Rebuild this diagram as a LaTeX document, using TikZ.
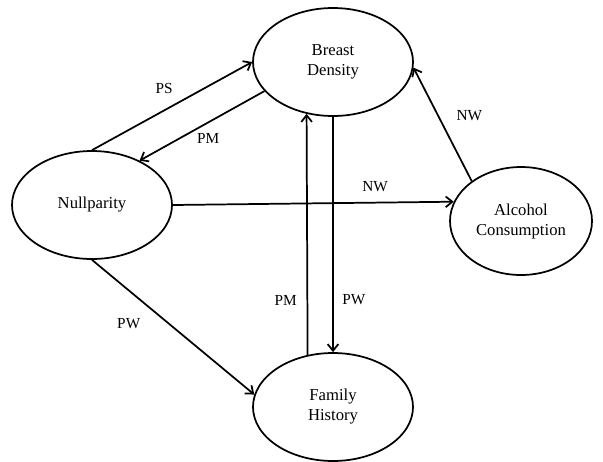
\documentclass[tikz,border=0pt]{standalone}
\usepackage{fontspec}
\setmainfont{Liberation Serif}
\usepackage{tikz}
\usetikzlibrary{shapes.geometric, arrows.meta}

\tikzset{
    factor/.style={draw, ellipse, line width=1.3pt, inner sep=0pt, align=center,
        minimum width=120pt, minimum height=81pt, font=\fontsize{12.5}{15}\selectfont},
    link/.style={-{Straight Barb[length=5pt, width=8pt, line width=1.3pt]}, line width=1.3pt},
    lbl/.style={font=\fontsize{11.5}{13}\selectfont}
}

\begin{document}
\begin{tikzpicture}[x=0.75pt, y=-0.75pt]
            \useasboundingbox (0, 0) rectangle (603, 461);

            \node[factor] (density) at (333, 62) {Breast\\Density};
            \node[factor] (nullparity) at (92, 205) {Nullparity};
            \node[factor, minimum width=106.5pt] (alcohol) at (521, 221) {Alcohol\\Consumption};
            \node[factor] (history) at (333, 407) {Family\\History};

            \draw[link] (nullparity.north) -- (density.west)
                node[lbl, pos=0.45, above=9pt] (ps) {PS};
            \draw[link] (density.203) -- (nullparity.43)
                node[lbl, pos=0.45, below=4pt] (pm1) {PM};
            \draw[link] (nullparity.east) -- (alcohol.164)
                node[lbl, pos=0.72, above=4pt] (nw1) {NW};
            \draw[link] (alcohol.141) -- (density.-4)
                node[lbl, pos=0.58, right=10pt] (nw2) {NW};
            \draw[link] (history.116.4) -- (density.243.6)
                node[lbl, pos=0.225, left=4pt] (pm2) {PM};
            \draw[link] (density.south) -- (history.north)
                node[lbl, pos=0.775, right=3pt] (pw1) {PW};
            \draw[link] (nullparity.south) -- (history.171)
                node[lbl, pos=0.33, left=0pt, yshift=-14.5pt] (pw2) {PW};
        \end{tikzpicture}
\end{document}
